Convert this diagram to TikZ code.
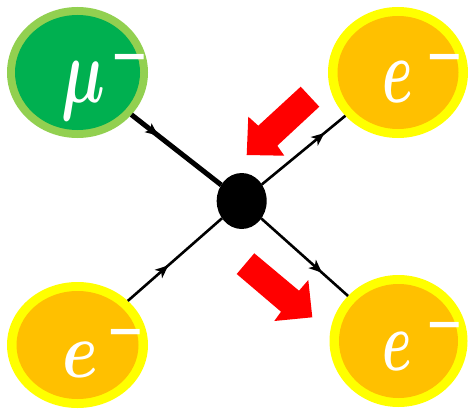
\documentclass[tikz,border=0pt]{standalone}
\usepackage{fix-cm}
\usepackage{amsmath}
\usepackage{graphicx}
\usepackage{fontspec}
\newfontfamily\minusfont{DejaVu Sans}
\usetikzlibrary{shapes.geometric,arrows.meta,decorations.markings}
\definecolor{mulight}{HTML}{92D050}
\definecolor{mudark}{HTML}{00B050}
\definecolor{eyellow}{HTML}{FFFF00}
\definecolor{eorange}{HTML}{FFC000}
\definecolor{redarrow}{HTML}{FF0000}
\newcommand{\plbl}[4]{\scalebox{#1}[#2]{$\boldsymbol{#3}$}\kern#4pt\raisebox{31pt}{\minusfont\bfseries\fontsize{46}{46}\selectfont −}}
\begin{document}
\begin{tikzpicture}[x=1pt,y=-1pt,
  blob/.style={ellipse, inner sep=0pt, outer sep=0pt},
  lbl/.style={text=white, inner sep=0pt, anchor=base west, font=\fontsize{92}{92}\selectfont},
  fermion/.style={line width=2.6pt, postaction={decorate, decoration={markings,
      mark=at position #1 with {\arrow{Stealth[length=13pt,width=11pt,inset=3.5pt]}}}}},
  redblock/.style={fill=redarrow}
]
\useasboundingbox (0,0) rectangle (468,412);
% particles
\node[blob, fill=mulight, minimum width=141, minimum height=131] (mu) at (77.5,72.5) {};
\node[blob, fill=mudark, minimum width=125, minimum height=115] (muin) at (mu) {};
\node[blob, fill=eyellow, minimum width=140, minimum height=131] (eout) at (398,72.5) {};
\node[blob, fill=eorange, minimum width=121, minimum height=113] (eoutin) at (eout) {};
\node[blob, fill=eyellow, minimum width=141, minimum height=126] (ein) at (77.5,345) {};
\node[blob, fill=eorange, minimum width=122, minimum height=108] (einin) at (ein) {};
\node[blob, fill=eyellow, minimum width=138, minimum height=132] (eout2) at (398.5,341) {};
\node[blob, fill=eorange, minimum width=119, minimum height=114] (eout2in) at (eout2) {};
% labels
\node[lbl] (mulbl) at (61,102) {\plbl{0.67}{1}{\mu}{6}};
\node[lbl] (eoutlbl) at (382,102) {\plbl{0.6}{1}{e}{13}};
\node[lbl] (einlbl) at (62,377) {\plbl{0.7}{0.86}{e}{9}};
\node[lbl] (eout2lbl) at (382,370) {\plbl{0.58}{0.93}{e}{14}};
% vertex
\node[blob, fill=black, minimum width=50, minimum height=56] (dot) at (241.7,201) {};
% lines
\draw[fermion=0.3, line width=5pt] (mu) -- (dot);
\draw[fermion=0.75] (dot) -- (eout);
\draw[fermion=0.43] (ein) -- (dot);
\draw[fermion=0.7] (dot) -- (eout2);
% red arrows
\fill[redblock] (246.7,155) -- (248.3,116.7) -- (258.3,125.7) -- (300.7,86.7)
  -- (319.3,106.7) -- (277.3,145.7) -- (284.3,155.7) -- cycle;
\fill[redblock] (236.7,274) -- (254.3,253.3) -- (299,290.7) -- (308.3,280)
  -- (312.3,317.3) -- (274.3,321) -- (281,311.7) -- cycle;
\end{tikzpicture}
\end{document}
